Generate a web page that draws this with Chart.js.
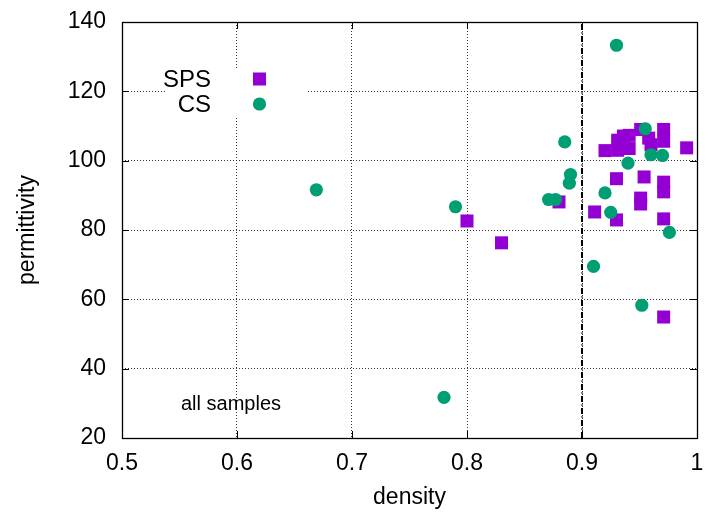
<!DOCTYPE html>
<html>
<head>
<meta charset="utf-8">
<script src="https://cdn.jsdelivr.net/npm/chart.js@4/dist/chart.umd.min.js"></script>
<style>
  html, body { margin: 0; padding: 0; background: #fff; }
  #wrap { width: 708px; height: 520px; position: relative; }
</style>
</head>
<body>
<div id="wrap"><canvas id="chart"></canvas></div>
<script>
// SPS samples (squares)
const spsDensity = [0.800, 0.830, 0.880, 0.911, 0.920, 0.931, 0.931, 0.936, 0.941, 0.941,
                    0.951, 0.958, 0.960, 0.971, 0.971, 0.930, 0.954, 0.971, 0.971, 0.951,
                    0.951, 0.930, 0.971, 0.971, 0.991];
const spsPermittivity = [82.6, 76.3, 88.1, 85.2, 102.9, 105.9, 103.0, 107.1, 107.3, 103.5,
                         109.0, 106.5, 104.6, 109.0, 105.6, 94.8, 95.3, 93.8, 91.0, 89.2,
                         87.5, 82.9, 83.2, 54.9, 103.7];

// CS samples (circles)
const csDensity = [0.669, 0.780, 0.790, 0.871, 0.877, 0.885, 0.889, 0.890, 0.910, 0.920,
                   0.925, 0.930, 0.940, 0.952, 0.955, 0.960, 0.970, 0.976];
const csPermittivity = [91.6, 31.7, 86.7, 88.8, 88.8, 105.4, 93.5, 96.0, 69.5, 90.7,
                        85.1, 133.3, 99.3, 58.3, 109.2, 101.7, 101.5, 79.3];

// dash-dot marker line
const cutDensity = [0.9, 0.9];
const cutPermittivity = [20, 140];

const xTicks = [0.5, 0.6, 0.7, 0.8, 0.9, 1];
const yTicks = [20, 40, 60, 80, 100, 120, 140];

const FONT = "'Liberation Sans', Arial, sans-serif";

function pts(xs, ys) {
  return xs.map((x, i) => ({ x: x, y: ys[i] }));
}

const spsSet = {
  label: "SPS",
  data: pts(spsDensity, spsPermittivity),
  pointStyle: "rect",
  pointRadius: 9.2,
  backgroundColor: "#9400D3",
  borderWidth: 0,
  order: 2
};
const csSet = {
  label: "CS",
  data: pts(csDensity, csPermittivity),
  pointStyle: "circle",
  pointRadius: 6.6,
  backgroundColor: "#009E73",
  borderWidth: 0,
  order: 1
};
const cutSet = {
  type: "line",
  label: "cut",
  data: pts(cutDensity, cutPermittivity),
  borderColor: "#000",
  borderWidth: 2,
  borderDash: [6, 2.5, 1, 2.5],
  pointRadius: 0,
  order: 3
};

// gnuplot style frame + inward ticks + key + label
const framePlugin = {
  id: "frame",
  beforeDatasetsDraw(chart) {
    const { ctx, chartArea: a } = chart;
    // key box hides the grid behind it
    ctx.save();
    ctx.fillStyle = "#fff";
    ctx.fillRect(a.left + 44, a.top + 46, 141, 50);
    ctx.restore();
  },
  afterDatasetsDraw(chart) {
    const { ctx, chartArea: a, scales } = chart;
    ctx.save();
    ctx.strokeStyle = "#000";
    ctx.lineWidth = 1;
    ctx.beginPath();
    xTicks.forEach(v => {
      const px = Math.round(scales.x.getPixelForValue(v)) + 0.5;
      ctx.moveTo(px, a.bottom); ctx.lineTo(px, a.bottom - 7);
      ctx.moveTo(px, a.top); ctx.lineTo(px, a.top + 7);
    });
    yTicks.forEach(v => {
      const py = Math.round(scales.y.getPixelForValue(v)) + 0.5;
      ctx.moveTo(a.left, py); ctx.lineTo(a.left + 7, py);
      ctx.moveTo(a.right, py); ctx.lineTo(a.right - 7, py);
    });
    ctx.stroke();
    ctx.lineWidth = 1.3;
    ctx.strokeRect(Math.round(a.left) + 0.5, Math.round(a.top) + 0.5,
                   Math.round(a.right - a.left), Math.round(a.bottom - a.top));

    // key
    ctx.fillStyle = "#000";
    ctx.font = "24px " + FONT;
    ctx.textAlign = "right";
    ctx.textBaseline = "middle";
    const keyRows = [spsSet, csSet];
    keyRows.forEach((ds, i) => {
      const y = a.top + 57 + i * 25;
      ctx.fillStyle = "#000";
      ctx.fillText(ds.label, a.left + 89, y + 1);
      ctx.fillStyle = ds.backgroundColor;
      ctx.beginPath();
      if (ds.pointStyle === "rect") {
        const s = ds.pointRadius * Math.SQRT1_2;
        ctx.rect(a.left + 137.5 - s, y - s, 2 * s, 2 * s);
      } else {
        ctx.arc(a.left + 137.5, y, ds.pointRadius, 0, Math.PI * 2);
      }
      ctx.fill();
    });

    ctx.fillStyle = "#000";
    ctx.font = "20px " + FONT;
    ctx.textAlign = "center";
    ctx.fillText("all samples", a.left + 109, a.bottom - 34);
    ctx.restore();
  }
};

const grid = {
  color: "#333",
  lineWidth: 1,
  drawTicks: false
};

// fixed box sizes, no extra room for overflowing tick labels
function fixBox(s, w, h) {
  if (w) s.width = w;
  if (h) s.height = h;
  s.paddingTop = 0;
  s.paddingBottom = 0;
  s.paddingLeft = 0;
  s.paddingRight = 0;
}

new Chart(document.getElementById("chart"), {
  type: "scatter",
  data: { datasets: [spsSet, csSet, cutSet] },
  options: {
    responsive: true,
    maintainAspectRatio: false,
    animation: false,
    events: [],
    layout: { padding: { left: 0, right: 11, top: 22, bottom: 0 } },
    plugins: {
      legend: { display: false },
      tooltip: { enabled: false }
    },
    scales: {
      x: {
        type: "linear",
        min: 0.5,
        max: 1,
        afterBuildTicks: s => { s.ticks = xTicks.map(v => ({ value: v })); },
        afterFit: s => fixBox(s, 0, 82),
        grid: grid,
        border: { display: false, dash: [1, 2] },
        ticks: {
          color: "#000",
          padding: 12,
          font: { family: FONT, size: 23 },
          callback: v => String(+v.toFixed(1))
        },
        title: {
          display: true,
          text: "density",
          color: "#000",
          font: { family: FONT, size: 23 },
          padding: { top: 0, bottom: 9 }
        }
      },
      y: {
        type: "linear",
        min: 20,
        max: 140,
        afterBuildTicks: s => { s.ticks = yTicks.map(v => ({ value: v })); },
        afterFit: s => fixBox(s, 122, 0),
        grid: grid,
        border: { display: false, dash: [1, 2] },
        ticks: {
          color: "#000",
          padding: 16,
          font: { family: FONT, size: 23 },
          callback: v => String(v)
        },
        title: {
          display: true,
          text: "permittivity",
          color: "#000",
          font: { family: FONT, size: 23 },
          padding: { top: 14, bottom: 0 }
        }
      }
    }
  },
  plugins: [framePlugin]
});
</script>
</body>
</html>
